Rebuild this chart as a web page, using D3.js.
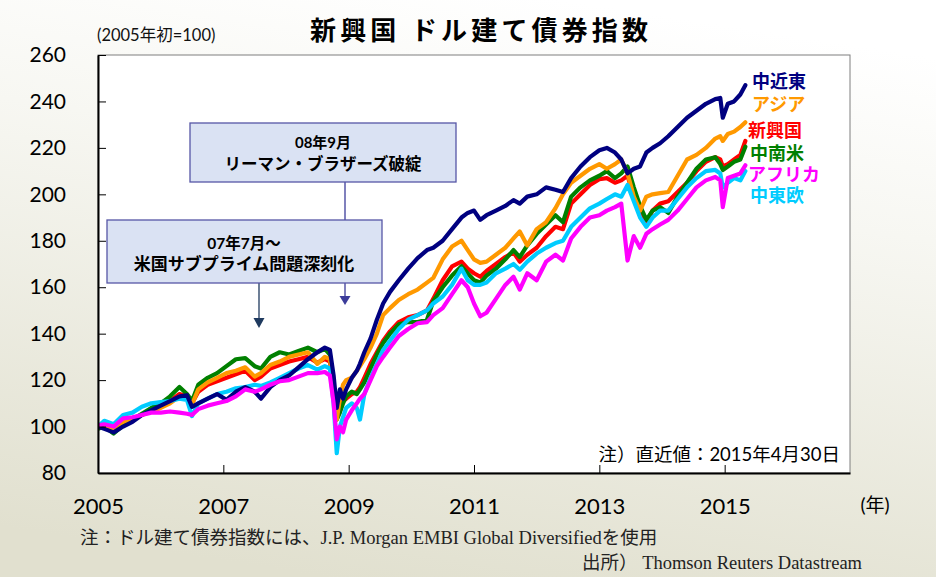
<!DOCTYPE html>
<html lang="ja">
<head>
<meta charset="UTF-8">
<title>新興国 ドル建て債券指数</title>
<style>
  * { margin: 0; padding: 0; box-sizing: border-box; }
  body { width: 936px; height: 577px; overflow: hidden; background: #fff; }
  svg text { font-family: Lato, "Noto Sans CJK JP", sans-serif; }
  .note-serif { font-family: "Liberation Serif", "Noto Sans CJK JP", serif !important; }
</style>
</head>
<body>
<svg id="chart" width="936" height="577"></svg>
<script src="https://d3js.org/d3.v7.min.js"></script>
<script>
  // decimal years, shared by every series
  const dates = [2005.0, 2005.1, 2005.25, 2005.4, 2005.55, 2005.7, 2005.85, 2006.0, 2006.15, 2006.3,
    2006.42, 2006.5, 2006.6, 2006.75, 2006.9, 2007.05, 2007.2, 2007.35, 2007.5, 2007.6,
    2007.75, 2007.9, 2008.05, 2008.2, 2008.35, 2008.5, 2008.62, 2008.7, 2008.76, 2008.81,
    2008.86, 2008.91, 2008.96, 2009.05, 2009.13, 2009.18, 2009.25, 2009.35, 2009.45, 2009.55,
    2009.66, 2009.8, 2009.95, 2010.1, 2010.25, 2010.35, 2010.5, 2010.65, 2010.8, 2010.9,
    2011.0, 2011.1, 2011.2, 2011.35, 2011.5, 2011.63, 2011.73, 2011.85, 2012.0, 2012.15,
    2012.3, 2012.42, 2012.55, 2012.7, 2012.85, 2013.0, 2013.12, 2013.25, 2013.35, 2013.45,
    2013.55, 2013.65, 2013.75, 2013.85, 2013.97, 2014.1, 2014.25, 2014.4, 2014.55, 2014.7,
    2014.85, 2014.93, 2014.97, 2015.05, 2015.15, 2015.25, 2015.33];

  const middleEast = [100, 99, 97.5, 100, 102, 105, 107, 109, 111, 113,
    113.5, 108.5, 110, 112, 114, 111.5, 115, 117, 115, 112,
    117, 120, 122, 125.5, 129, 132, 134, 133, 122, 108,
    116, 112, 116, 121, 124, 127, 132, 138, 146, 153,
    158, 163, 168, 172.5, 176, 177, 180, 185, 190, 192,
    193, 189, 191, 193, 195, 197.5, 196, 199, 200, 203,
    202, 201, 207, 212, 216, 219, 220, 218, 215, 209,
    211, 212, 218, 220, 222, 225, 229, 233, 236, 239,
    241, 241.5, 233, 239, 240, 243, 247];

  const asia = [100, 100.5, 99, 102, 103, 105, 106.5, 108, 110, 113,
    112, 109.5, 116, 119, 121, 123, 124, 125.5, 121.5, 123,
    126.5, 128, 130, 131, 132, 127, 130, 129, 118, 103,
    112, 118, 120, 121, 124, 126, 129, 134, 140, 148,
    151, 154.5, 157, 159, 162, 164, 172, 177.5, 180, 176,
    172, 170.5, 171, 174, 177, 181, 184, 178, 185, 188,
    194, 200, 205, 208, 211, 213, 211, 213, 215, 209,
    199, 193, 199, 200, 200.5, 201, 208, 215, 217, 220,
    224, 225, 223, 226, 227, 229, 231];

  const emerging = [100, 100, 98, 101, 103, 105, 107, 109, 111, 114,
    113, 110, 115, 118, 119.5, 121, 122.5, 124, 120, 121.5,
    125, 126.5, 128, 129, 130, 127.5, 129, 128, 117, 104,
    108, 111, 112, 114, 115, 117, 121, 127, 132, 137,
    141, 145, 147, 148, 150, 155, 163, 169, 171, 168,
    166, 164.5, 167, 170, 173, 175, 171, 174, 177, 182,
    186, 185, 196, 200, 204, 206.5, 207, 205, 206, 208,
    199, 194, 188, 193, 196, 197, 201, 205, 210, 214,
    216, 215, 212, 213, 215, 217, 223];

  const latinAmerica = [99, 100, 97, 100.5, 103, 105.5, 108, 110, 113, 117,
    114, 111, 118, 121, 123, 126, 129, 129.5, 126, 125,
    130, 132, 131, 132.5, 134, 132, 133.5, 131, 117, 103,
    106, 110, 113, 115, 114, 116, 119, 125, 131, 136,
    140, 144, 145, 145, 146, 154, 160, 165, 169, 166,
    163, 162, 165, 168, 172, 176, 173, 178, 183, 187,
    191, 188, 199, 203, 206, 208, 210, 207, 209, 212,
    203, 195, 189, 193, 194.5, 192, 199, 205, 211, 215,
    216, 213, 210.5, 212, 214, 215, 220.5];

  const africa = [100.5, 101, 100, 103.5, 104, 105, 106, 106, 106.5, 106,
    105.5, 105, 107.5, 109, 110, 111, 113, 116, 115, 116,
    118, 119.5, 120, 121.5, 123, 123, 123.5, 122, 110, 94.5,
    100, 97.5, 103, 107, 110, 112, 114, 120, 126, 130,
    134, 139, 142, 144.5, 145, 148, 151, 157, 163, 160,
    153, 147.5, 149, 155, 161, 164.5, 159, 166, 163, 171,
    174, 171.5, 181, 186, 190, 191, 193, 194.5, 196, 171.5,
    182, 177, 183, 185, 187, 189, 193, 198, 203, 206,
    207.5, 206, 194.5, 207, 208, 209, 212.5];

  const centralEastEurope = [100, 102.5, 101, 105, 106, 108.5, 110, 110.5, 111, 112,
    111.5, 104.5, 110, 112, 114, 115, 116.5, 117, 118, 117.5,
    119, 121, 123, 125, 126.5, 124.5, 126, 125, 110, 88.5,
    100, 104, 108, 110, 108, 103, 114, 121, 127, 133,
    137, 142, 146, 148, 150, 153, 156, 161, 168, 163,
    161, 161, 162, 166, 168, 170, 167.5, 171, 174.5, 177,
    179, 180, 186, 190, 194, 196, 198, 200, 199, 204,
    197, 190, 186, 190, 193, 193, 198, 203, 207, 210,
    210.5, 209, 203, 205, 207, 206, 210];

  const seriesNames = ["中近東", "アジア", "新興国", "中南米", "アフリカ", "中東欧"];
  const seriesValues = [middleEast, asia, emerging, latinAmerica, africa, centralEastEurope];
  const seriesColors = ["#000080", "#ff9900", "#ff0000", "#008000", "#ff00ff", "#00ccff"];

  const yTicks = [80, 100, 120, 140, 160, 180, 200, 220, 240, 260];
  const xTicks = [2005, 2007, 2009, 2011, 2013, 2015];

  const svg = d3.select("#chart");

  // Background gradient
  const defs = svg.append("defs");
  const grad = defs.append("linearGradient").attr("id", "bg")
    .attr("x1", "0.6").attr("y1", "0").attr("x2", "0.35").attr("y2", "1");
  grad.append("stop").attr("offset", "0").attr("stop-color", "#ffffff");
  grad.append("stop").attr("offset", "0.3").attr("stop-color", "#f7f7f2");
  grad.append("stop").attr("offset", "1").attr("stop-color", "#e1e0cf");
  svg.append("rect").attr("width", 936).attr("height", 577).attr("fill", "url(#bg)");

  const plot = { left: 98, top: 55, right: 850, bottom: 473 };
  const x = d3.scaleLinear().domain([2005, 2017]).range([plot.left, plot.right]);
  const y = d3.scaleLinear().domain([80, 260]).range([plot.bottom, plot.top]);

  defs.append("clipPath").attr("id", "clip").append("rect")
    .attr("x", plot.left).attr("y", plot.top)
    .attr("width", plot.right - plot.left).attr("height", plot.bottom - plot.top);

  // Plot frame
  svg.append("rect").attr("x", plot.left).attr("y", plot.top)
    .attr("width", plot.right - plot.left).attr("height", plot.bottom - plot.top)
    .attr("fill", "#fff").attr("stroke", "#7f7f7f").attr("stroke-width", 1);

  // Title
  svg.append("text").attr("x", 310).attr("y", 40)
    .attr("textLength", 338).attr("lengthAdjust", "spacing")
    .attr("font-size", 26).attr("font-weight", "bold").attr("fill", "#000")
    .text("新興国 ドル建て債券指数");

  svg.append("text").attr("x", 97).attr("y", 41)
    .attr("font-size", 16.5).attr("fill", "#111")
    .text("(2005年初=100)");

  // Lines (magenta and navy on top)
  const line = d3.line().x((d, i) => x(dates[i])).y(d => y(d));
  const drawOrder = [2, 3, 1, 5, 0, 4];
  svg.append("g").attr("clip-path", "url(#clip)")
    .selectAll("path").data(drawOrder).join("path")
    .attr("d", k => line(seriesValues[k]))
    .attr("fill", "none")
    .attr("stroke", k => seriesColors[k])
    .attr("stroke-width", 4.2)
    .attr("stroke-linejoin", "round")
    .attr("stroke-linecap", "round");

  // Axes
  const yAxis = svg.append("g").attr("transform", `translate(${plot.left},0)`)
    .call(d3.axisLeft(y).tickValues(yTicks).tickSizeInner(-8).tickSizeOuter(0).tickPadding(32));
  const xAxis = svg.append("g").attr("transform", `translate(0,${plot.bottom})`)
    .call(d3.axisBottom(x).tickValues(xTicks).tickFormat(d3.format("d"))
      .tickSizeInner(-8).tickSizeOuter(0).tickPadding(25));
  [yAxis, xAxis].forEach(a => {
    a.select(".domain").attr("stroke", "#000").attr("stroke-width", 2);
    a.selectAll(".tick line").attr("stroke", "#000").attr("stroke-width", 1);
    a.selectAll(".tick text").attr("fill", "#000").attr("font-family", "Lato, sans-serif");
  });
  yAxis.selectAll(".tick text").attr("font-size", 21);
  xAxis.selectAll(".tick text").attr("font-size", 22);

  svg.append("text").attr("x", 875).attr("y", 505).attr("dy", "0.35em")
    .attr("text-anchor", "middle").attr("font-size", 19).attr("fill", "#000")
    .text("(年)");

  // Series labels at the right end
  const labelY = [82, 105, 131, 154, 175, 196];
  const labelX = [752, 752, 748, 750, 748, 750];
  svg.append("g").selectAll("text").data(seriesNames).join("text")
    .attr("x", (d, i) => labelX[i]).attr("y", (d, i) => labelY[i]).attr("dy", "0.36em")
    .attr("font-size", 18).attr("font-weight", "bold")
    .attr("fill", (d, i) => seriesColors[i])
    .text(d => d);

  // Annotations
  const boxFill = "#dae2f3", boxStroke = "#5656a6";
  const ann = svg.append("g");

  // Lehman connector (drawn first, passes behind the subprime box)
  ann.append("line").attr("x1", 345).attr("y1", 182).attr("x2", 345).attr("y2", 297)
    .attr("stroke", "#3c3c9a").attr("stroke-width", 1.3);
  ann.append("path").attr("d", "M339.5,296 L350.5,296 L345,305 Z").attr("fill", "#3c3c9a");

  ann.append("rect").attr("x", 190).attr("y", 123).attr("width", 266).attr("height", 59)
    .attr("fill", boxFill).attr("stroke", boxStroke).attr("stroke-width", 1.3);
  ann.append("text").attr("x", 323).attr("y", 143).attr("dy", "0.36em").attr("text-anchor", "middle")
    .attr("font-size", 15).attr("font-weight", "bold").text("08年9月");
  ann.append("text").attr("x", 323).attr("y", 164).attr("dy", "0.36em").attr("text-anchor", "middle")
    .attr("font-size", 16.5).attr("font-weight", "bold").text("リーマン・ブラザーズ破綻");

  ann.append("line").attr("x1", 259).attr("y1", 283).attr("x2", 259).attr("y2", 319)
    .attr("stroke", "#1f3a5f").attr("stroke-width", 1.3);
  ann.append("path").attr("d", "M253.5,318 L264.5,318 L259,328 Z").attr("fill", "#1f3a5f");

  ann.append("rect").attr("x", 107).attr("y", 220).attr("width", 275).attr("height", 63)
    .attr("fill", boxFill).attr("stroke", boxStroke).attr("stroke-width", 1.3);
  ann.append("text").attr("x", 244).attr("y", 243).attr("dy", "0.36em").attr("text-anchor", "middle")
    .attr("font-size", 15.5).attr("font-weight", "bold").text("07年7月～");
  ann.append("text").attr("x", 244).attr("y", 264).attr("dy", "0.36em").attr("text-anchor", "middle")
    .attr("font-size", 17).attr("font-weight", "bold").text("米国サブプライム問題深刻化");

  // Notes
  svg.append("text").attr("x", 840).attr("y", 454).attr("dy", "0.36em").attr("text-anchor", "end")
    .attr("font-size", 18.5).attr("fill", "#000").text("注）直近値：2015年4月30日");

  svg.append("text").attr("class", "note-serif").attr("x", 80).attr("y", 537).attr("dy", "0.36em")
    .attr("font-size", 18.5).attr("fill", "#222")
    .text("注：ドル建て債券指数には、J.P. Morgan EMBI Global Diversifiedを使用");
  svg.append("text").attr("class", "note-serif").attr("x", 582).attr("y", 562).attr("dy", "0.36em")
    .attr("font-size", 18.5).attr("fill", "#222")
    .text("出所）  Thomson Reuters Datastream");
</script>
</body>
</html>
